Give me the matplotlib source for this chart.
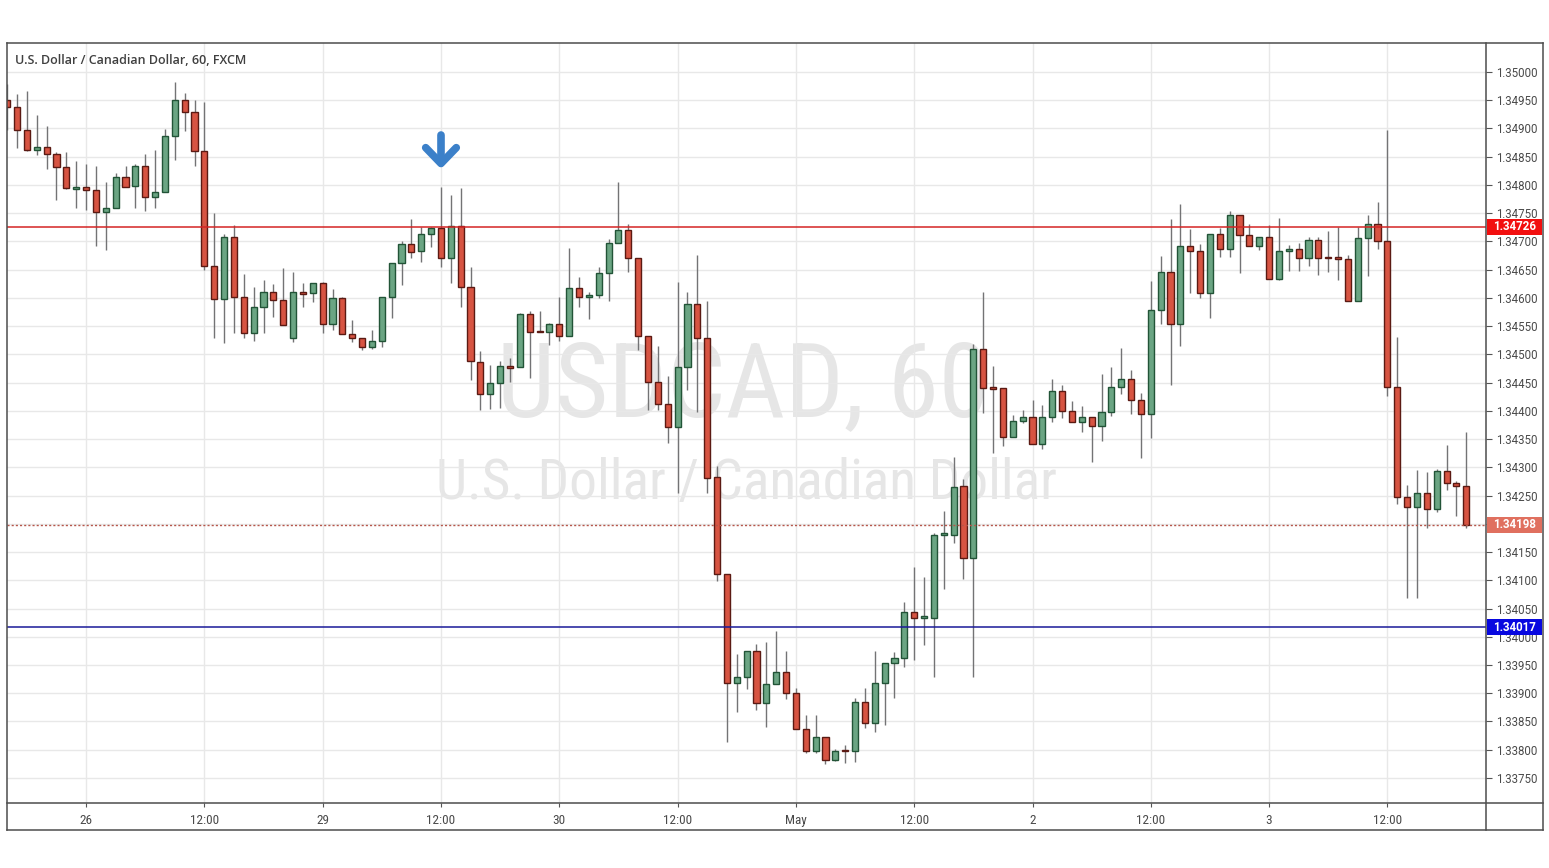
import matplotlib
matplotlib.use('Agg')
import matplotlib.pyplot as plt
import numpy as np
from matplotlib.patches import Rectangle
from matplotlib.lines import Line2D
from matplotlib import font_manager

# ---------------- data (USD/CAD, 60 min, FXCM) ----------------
opens = [1.34950, 1.34938, 1.34897, 1.34861, 1.34867, 1.34854, 1.34831, 1.34793, 1.34796, 1.34791,
         1.34752, 1.34760, 1.34814, 1.34798, 1.34834, 1.34778, 1.34787, 1.34886, 1.34950, 1.34929,
         1.34860, 1.34656, 1.34598, 1.34707, 1.34601, 1.34537, 1.34583, 1.34610, 1.34596, 1.34529,
         1.34610, 1.34608, 1.34626, 1.34553, 1.34599, 1.34536, 1.34529, 1.34513, 1.34524, 1.34601,
         1.34661, 1.34695, 1.34683, 1.34713, 1.34723, 1.34670, 1.34728, 1.34619, 1.34487, 1.34429,
         1.34449, 1.34478, 1.34477, 1.34571, 1.34540, 1.34539, 1.34553, 1.34532, 1.34617, 1.34601,
         1.34606, 1.34644, 1.34697, 1.34720, 1.34670, 1.34533, 1.34451, 1.34412, 1.34372, 1.34477,
         1.34589, 1.34529, 1.34283, 1.34112, 1.33918, 1.33928, 1.33975, 1.33882, 1.33916, 1.33937,
         1.33900, 1.33836, 1.33797, 1.33823, 1.33782, 1.33798, 1.33797, 1.33884, 1.33848, 1.33918,
         1.33953, 1.33962, 1.34044, 1.34033, 1.34033, 1.34180, 1.34181, 1.34267, 1.34139, 1.34509,
         1.34440, 1.34441, 1.34353, 1.34382, 1.34390, 1.34341, 1.34390, 1.34436, 1.34400, 1.34381,
         1.34390, 1.34374, 1.34398, 1.34443, 1.34456, 1.34420, 1.34394, 1.34578, 1.34645, 1.34553,
         1.34691, 1.34683, 1.34608, 1.34714, 1.34687, 1.34747, 1.34711, 1.34692, 1.34707, 1.34633,
         1.34683, 1.34686, 1.34670, 1.34703, 1.34672, 1.34672, 1.34668, 1.34595, 1.34706, 1.34730,
         1.34701, 1.34443, 1.34247, 1.34230, 1.34254, 1.34226, 1.34294, 1.34272, 1.34267]
highs = [1.34978, 1.34961, 1.34967, 1.34923, 1.34905, 1.34858, 1.34858, 1.34842, 1.34837, 1.34834,
         1.34806, 1.34821, 1.34834, 1.34837, 1.34854, 1.34862, 1.34899, 1.34983, 1.34963, 1.34950,
         1.34947, 1.34750, 1.34714, 1.34729, 1.34642, 1.34620, 1.34632, 1.34625, 1.34653, 1.34646,
         1.34627, 1.34626, 1.34629, 1.34615, 1.34602, 1.34561, 1.34529, 1.34544, 1.34601, 1.34661,
         1.34701, 1.34740, 1.34726, 1.34726, 1.34796, 1.34783, 1.34794, 1.34655, 1.34506, 1.34482,
         1.34488, 1.34494, 1.34573, 1.34577, 1.34577, 1.34555, 1.34601, 1.34689, 1.34637, 1.34611,
         1.34655, 1.34704, 1.34806, 1.34730, 1.34670, 1.34533, 1.34514, 1.34461, 1.34629, 1.34610,
         1.34676, 1.34595, 1.34302, 1.34112, 1.33970, 1.33975, 1.33987, 1.33990, 1.34010, 1.33975,
         1.33909, 1.33862, 1.33862, 1.33823, 1.33801, 1.33808, 1.33891, 1.33909, 1.33974, 1.33953,
         1.33973, 1.34062, 1.34124, 1.34105, 1.34183, 1.34223, 1.34318, 1.34279, 1.34518, 1.34611,
         1.34479, 1.34441, 1.34393, 1.34402, 1.34419, 1.34410, 1.34456, 1.34446, 1.34417, 1.34409,
         1.34390, 1.34465, 1.34478, 1.34512, 1.34472, 1.34431, 1.34630, 1.34674, 1.34740, 1.34766,
         1.34722, 1.34695, 1.34714, 1.34724, 1.34754, 1.34747, 1.34730, 1.34707, 1.34729, 1.34741,
         1.34694, 1.34697, 1.34707, 1.34707, 1.34719, 1.34726, 1.34676, 1.34726, 1.34746, 1.34769,
         1.34897, 1.34530, 1.34269, 1.34295, 1.34291, 1.34297, 1.34340, 1.34276, 1.34363]
lows = [1.34897, 1.34866, 1.34860, 1.34853, 1.34828, 1.34774, 1.34792, 1.34760, 1.34756, 1.34692,
        1.34685, 1.34760, 1.34796, 1.34760, 1.34753, 1.34760, 1.34787, 1.34845, 1.34896, 1.34834,
        1.34649, 1.34529, 1.34521, 1.34537, 1.34529, 1.34524, 1.34538, 1.34567, 1.34552, 1.34522,
        1.34584, 1.34593, 1.34537, 1.34543, 1.34536, 1.34522, 1.34507, 1.34509, 1.34513, 1.34564,
        1.34623, 1.34671, 1.34664, 1.34690, 1.34655, 1.34627, 1.34583, 1.34455, 1.34402, 1.34403,
        1.34405, 1.34451, 1.34477, 1.34459, 1.34539, 1.34517, 1.34524, 1.34532, 1.34584, 1.34563,
        1.34600, 1.34595, 1.34697, 1.34646, 1.34508, 1.34402, 1.34402, 1.34343, 1.34255, 1.34437,
        1.34398, 1.34254, 1.34098, 1.33814, 1.33866, 1.33907, 1.33870, 1.33840, 1.33916, 1.33889,
        1.33836, 1.33795, 1.33794, 1.33775, 1.33780, 1.33777, 1.33779, 1.33838, 1.33832, 1.33844,
        1.33891, 1.33947, 1.33959, 1.33986, 1.33928, 1.34085, 1.34166, 1.34102, 1.33929, 1.34396,
        1.34325, 1.34338, 1.34353, 1.34378, 1.34341, 1.34332, 1.34380, 1.34388, 1.34381, 1.34363,
        1.34310, 1.34347, 1.34391, 1.34430, 1.34394, 1.34317, 1.34352, 1.34553, 1.34445, 1.34515,
        1.34609, 1.34599, 1.34564, 1.34673, 1.34673, 1.34644, 1.34692, 1.34685, 1.34633, 1.34631,
        1.34648, 1.34648, 1.34657, 1.34641, 1.34645, 1.34631, 1.34595, 1.34595, 1.34639, 1.34687,
        1.34427, 1.34235, 1.34068, 1.34069, 1.34192, 1.34221, 1.34260, 1.34213, 1.34192]
closes = [1.34938, 1.34897, 1.34861, 1.34867, 1.34854, 1.34831, 1.34794, 1.34796, 1.34791, 1.34752,
          1.34760, 1.34814, 1.34797, 1.34834, 1.34778, 1.34787, 1.34887, 1.34950, 1.34929, 1.34860,
          1.34656, 1.34598, 1.34707, 1.34601, 1.34537, 1.34583, 1.34610, 1.34596, 1.34552, 1.34610,
          1.34607, 1.34626, 1.34553, 1.34599, 1.34536, 1.34529, 1.34513, 1.34524, 1.34601, 1.34661,
          1.34695, 1.34682, 1.34713, 1.34723, 1.34670, 1.34728, 1.34619, 1.34488, 1.34429, 1.34449,
          1.34479, 1.34476, 1.34571, 1.34539, 1.34539, 1.34553, 1.34532, 1.34617, 1.34601, 1.34606,
          1.34644, 1.34697, 1.34720, 1.34670, 1.34533, 1.34451, 1.34412, 1.34372, 1.34477, 1.34589,
          1.34529, 1.34282, 1.34112, 1.33918, 1.33928, 1.33975, 1.33882, 1.33916, 1.33937, 1.33900,
          1.33836, 1.33797, 1.33823, 1.33782, 1.33798, 1.33797, 1.33884, 1.33848, 1.33918, 1.33953,
          1.33962, 1.34044, 1.34033, 1.34034, 1.34180, 1.34181, 1.34266, 1.34139, 1.34509, 1.34440,
          1.34439, 1.34353, 1.34382, 1.34390, 1.34341, 1.34390, 1.34436, 1.34400, 1.34381, 1.34390,
          1.34374, 1.34398, 1.34443, 1.34456, 1.34420, 1.34394, 1.34578, 1.34645, 1.34553, 1.34691,
          1.34683, 1.34608, 1.34714, 1.34687, 1.34747, 1.34711, 1.34692, 1.34707, 1.34633, 1.34683,
          1.34686, 1.34670, 1.34703, 1.34670, 1.34670, 1.34668, 1.34595, 1.34706, 1.34730, 1.34701,
          1.34443, 1.34247, 1.34230, 1.34254, 1.34226, 1.34294, 1.34272, 1.34267, 1.34198]

tick_bars = [8, 20, 32, 44, 56, 68, 80, 92, 104, 116, 128, 140]
tick_labels = ['26', '12:00', '29', '12:00', '30', '12:00', 'May', '12:00', '2', '12:00', '3', '12:00']
price_ticks = [1.33750, 1.33800, 1.33850, 1.33900, 1.33950, 1.34000, 1.34050, 1.34100, 1.34150,
               1.34200, 1.34250, 1.34300, 1.34350, 1.34400, 1.34450, 1.34500, 1.34550, 1.34600,
               1.34650, 1.34700, 1.34750, 1.34800, 1.34850, 1.34900, 1.34950, 1.35000]
resistance = 1.34726
support = 1.34017
last_price = closes[-1]
signal_bar = 44

# ---------------- fonts ----------------
ttf = font_manager.fontManager.ttflist
names = {f.name for f in ttf}
narrow_family, narrow_stretch = 'DejaVu Sans', 'normal'
for cand in ['Liberation Sans Narrow', 'Roboto Condensed', 'Open Sans Condensed',
             'Noto Sans Condensed', 'DejaVu Sans Condensed']:
    if cand in names:
        narrow_family = cand
        break
else:
    for f in ttf:
        if f.name in ('DejaVu Sans', 'Noto Sans', 'Roboto', 'Open Sans') and \
                str(f.stretch) in ('condensed', 'semi-condensed', '500', '400'):
            if str(f.stretch) in ('condensed', 'semi-condensed'):
                narrow_family, narrow_stretch = f.name, f.stretch
                break

W, H = 1549, 868
fig = plt.figure(figsize=(W / 100, H / 100), dpi=100)
fig.patch.set_facecolor('white')

L, R, T, B = 7, 1486, 43, 803
ax = fig.add_axes([L / W, 1 - B / H, (R - L) / W, (B - T) / H])
ax.set_facecolor('white')

n = len(opens)
x = np.arange(n)
o = np.array(opens); h = np.array(highs); l = np.array(lows); c = np.array(closes)
up = c >= o

ax.set_xlim(-0.02, 150.0)
ax.set_ylim(1.337057, 1.350513)

# grid
for tb in tick_bars:
    ax.axvline(tb, color='#e8e8e8', lw=1, zorder=0)
for pt in price_ticks:
    ax.axhline(pt, color='#e8e8e8', lw=1, zorder=0)


def fx(px):
    return px / W


def fy(py):
    return 1 - py / H


renderer = fig.canvas.get_renderer()


def fit_text(xc, yb, s, target_w, fs, **kw):
    t = fig.text(fx(xc), fy(yb), s, fontsize=fs, **kw)
    w = t.get_window_extent(renderer=renderer).width
    t.set_fontsize(fs * target_w / w)
    return t

# watermark
fit_text(743.5, 416, 'USDCAD, 60', 493, 60, family=[narrow_family, 'DejaVu Sans'],
         fontstretch=narrow_stretch, color='#e6e6e6', ha='center', va='baseline', zorder=0.5)
fit_text(747, 499, 'U.S. Dollar / Canadian Dollar', 620, 40,
         family=[narrow_family, 'DejaVu Sans'], fontstretch=narrow_stretch,
         color='#e6e6e6', ha='center', va='baseline', zorder=0.5)
ax.set_zorder(1)
ax.patch.set_alpha(0)

# candles
ax.vlines(x, l, h, color='#737375', lw=1, zorder=2)
body_bottom = np.minimum(o, c)
body_h = np.maximum(np.abs(c - o), 0.00003)
face = np.where(up, '#6ba583', '#d75442')
edge = np.where(up, '#225437', '#5b1a13')
ax.bar(x, body_h, bottom=body_bottom, width=0.62, color=face, edgecolor=edge,
       linewidth=1, zorder=3)

# horizontal levels
ax.axhline(resistance, color='#d42424', lw=1.1, zorder=4)
ax.axhline(support, color='#1a1a99', lw=1.1, zorder=4)
ax.axhline(last_price, color='#b5564a', lw=1, linestyle=(0, (1.5, 1.5)), zorder=4)

# blue arrow above signal candle
tip = highs[signal_bar] + 0.00042
ax.plot([signal_bar, signal_bar], [tip + 0.00050, tip], color='#3b80c9', lw=5.5,
        solid_capstyle='round', zorder=5)
ax.plot([signal_bar - 1.55, signal_bar, signal_bar + 1.55], [tip + 0.00028, tip, tip + 0.00028],
        color='#3b80c9', lw=5.5, solid_capstyle='round', solid_joinstyle='round', zorder=5)

# axes styling
for s in ax.spines.values():
    s.set_visible(False)
ax.yaxis.tick_right()
ax.set_yticks(price_ticks)
ax.set_yticklabels(['%.5f' % p for p in price_ticks])
ax.tick_params(axis='y', length=4, width=0.8, color='#555555', pad=3, labelsize=8.3,
               labelcolor='#4a4a4a')
for lab in ax.get_yticklabels():
    lab.set_family(['Roboto', 'DejaVu Sans'])
ax.set_xticks(tick_bars)
ax.set_xticklabels(tick_labels)
ax.tick_params(axis='x', length=3, width=0.8, color='#555555', pad=5, labelsize=9.5,
               labelcolor='#4a4a4a')
for lab in ax.get_xticklabels():
    lab.set_family([narrow_family, 'DejaVu Sans'])
    lab.set_fontstretch(narrow_stretch)

# frame
fc = '#4d4d4d'


def fline(x0, y0, x1, y1):
    fig.add_artist(Line2D([fx(x0), fx(x1)], [fy(y0), fy(y1)], color=fc, lw=1.1,
                          transform=fig.transFigure, zorder=6))


fline(7, 43, 1543, 43)
fline(7, 830, 1543, 830)
fline(7, 43, 7, 830)
fline(1543, 43, 1543, 830)
fline(1486, 43, 1486, 830)
fline(7, 803, 1543, 803)


# price label boxes
def price_box(price, bg):
    yc = ax.transData.transform((0, price))[1]
    py = H - yc
    fig.add_artist(Rectangle((fx(1487), fy(py + 8)), (1542 - 1487) / W, 16 / H,
                             facecolor=bg, edgecolor='none', transform=fig.transFigure,
                             zorder=7))
    fig.text(fx(1514.5), fy(py), '%.5f' % price, color='white', fontsize=8.3,
             fontweight='bold', family=['Roboto', 'DejaVu Sans'], ha='center',
             va='center', zorder=8)


price_box(resistance, '#f20f0f')
price_box(support, '#0808e0')
price_box(last_price, '#e0705f')

# title
fig.text(fx(15), fy(60), 'U.S. Dollar / Canadian Dollar, 60, FXCM', fontsize=9,
         fontweight='semibold', color='#404040', family=['Open Sans', 'DejaVu Sans'],
         ha='left', va='center', zorder=8)

fig.savefig('out.png', dpi=100, facecolor='white')
